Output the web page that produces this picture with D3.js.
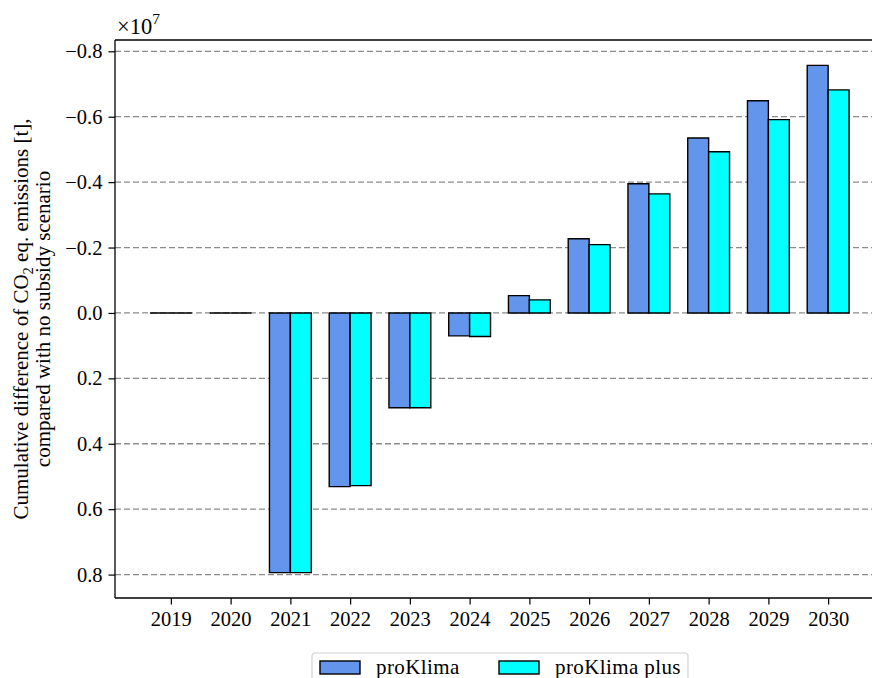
<!DOCTYPE html>
<html>
<head>
<meta charset="utf-8">
<script src="https://cdn.jsdelivr.net/npm/d3@7"></script>
<style>
  html, body { margin: 0; padding: 0; background: #fff; }
  svg { display: block; }
  text { font-family: "Liberation Serif", "DejaVu Serif", serif; fill: #000; }
</style>
</head>
<body>
<svg id="chart" width="872" height="678"></svg>
<script>
// Cumulative CO2-eq difference vs. the no-subsidy scenario, tonnes
const years = [2019, 2020, 2021, 2022, 2023, 2024, 2025, 2026, 2027, 2028, 2029, 2030];
const proKlima     = [0, 0, 7.94e6, 5.31e6, 2.90e6, 0.70e6, -0.53e6, -2.27e6, -3.95e6, -5.35e6, -6.49e6, -7.57e6];
const proKlimaPlus = [0, 0, 7.94e6, 5.28e6, 2.90e6, 0.72e6, -0.40e6, -2.09e6, -3.64e6, -4.93e6, -5.91e6, -6.82e6];
const seriesNames  = ["proKlima", "proKlima plus"];
const seriesColors = ["#6495ED", "#00FFFF"];
const yTicks = [-0.8, -0.6, -0.4, -0.2, 0.0, 0.2, 0.4, 0.6, 0.8];
const scaleExp = 7;

const svg = d3.select("#chart");
const plot = { left: 115, top: 40, right: 884, bottom: 598 };
const barW = 0.35;
const tickFont = 20.5;
const labelFont = 21;

// x: year positions with 5% padding around the outermost bars
const xLo = d3.min(years) - barW, xHi = d3.max(years) + barW;
const xPad = (xHi - xLo) * 0.05;
const x = d3.scaleLinear().domain([xLo - xPad, xHi + xPad]).range([plot.left, plot.right]);

// y: values in units of 1e7, axis inverted (negative at the top)
const all = proKlima.concat(proKlimaPlus).map(v => v / Math.pow(10, scaleExp)).concat([0]);
const yLo = d3.min(all), yHi = d3.max(all);
const yPad = (yHi - yLo) * 0.05;
const y = d3.scaleLinear().domain([yLo - yPad, yHi + yPad]).range([plot.top, plot.bottom]);

const fmt = v => (v < 0 ? "\u2212" : "") + Math.abs(v).toFixed(1);

// grid
svg.append("g").selectAll("line").data(yTicks).join("line")
  .attr("x1", plot.left).attr("x2", plot.right)
  .attr("y1", d => y(d)).attr("y2", d => y(d))
  .attr("stroke", "#8c8c8c").attr("stroke-width", 1.3)
  .attr("stroke-dasharray", "6,3");

// bars
const series = [proKlima, proKlimaPlus];
series.forEach((vals, si) => {
  svg.append("g").selectAll("path").data(vals.map((v, i) => ({ year: years[i], v: v / Math.pow(10, scaleExp) })))
    .join("path")
    .attr("d", d => {
      const x0 = x(d.year + (si === 0 ? -barW : 0));
      const x1 = x(d.year + (si === 0 ? 0 : barW));
      const y0 = y(0), y1 = y(d.v);
      return `M${x0},${y0}H${x1}V${y1}H${x0}Z`;
    })
    .attr("fill", seriesColors[si])
    .attr("stroke", "#000").attr("stroke-width", 1.4)
    .attr("stroke-linejoin", "miter");
});

// spines
svg.append("line").attr("x1", plot.left).attr("x2", plot.right).attr("y1", plot.top).attr("y2", plot.top)
  .attr("stroke", "#000").attr("stroke-width", 1.3);
svg.append("line").attr("x1", plot.left).attr("x2", plot.right).attr("y1", plot.bottom).attr("y2", plot.bottom)
  .attr("stroke", "#000").attr("stroke-width", 1.3);
svg.append("line").attr("x1", plot.left).attr("x2", plot.left).attr("y1", plot.top).attr("y2", plot.bottom)
  .attr("stroke", "#000").attr("stroke-width", 1.3);

// y axis
const yAxis = d3.axisLeft(y).tickValues(yTicks).tickFormat(fmt).tickSize(6.5).tickPadding(6);
const gy = svg.append("g").attr("transform", `translate(${plot.left},0)`).call(yAxis);
gy.select(".domain").remove();
gy.attr("font-size", tickFont).attr("font-family", "Liberation Serif");
gy.selectAll(".tick line").attr("stroke", "#000").attr("stroke-width", 1.2);
gy.selectAll(".tick text").attr("fill", "#000");

// x axis
const xAxis = d3.axisBottom(x).tickValues(years).tickFormat(d3.format("d")).tickSize(6.5).tickPadding(7);
const gx = svg.append("g").attr("transform", `translate(0,${plot.bottom})`).call(xAxis);
gx.select(".domain").remove();
gx.attr("font-size", tickFont).attr("font-family", "Liberation Serif");
gx.selectAll(".tick line").attr("stroke", "#000").attr("stroke-width", 1.2);
gx.selectAll(".tick text").attr("fill", "#000");

// scale factor
const off = svg.append("text").attr("x", plot.left + 2).attr("y", plot.top - 6).attr("font-size", 22.5);
off.append("tspan").text("\u00d710");
off.append("tspan").attr("font-size", 15.5).attr("dy", -10).text(scaleExp);

// y label
const cy = (plot.top + plot.bottom) / 2;
const yl = svg.append("g").attr("transform", `translate(28,${cy}) rotate(-90)`);
const l1 = yl.append("text").attr("text-anchor", "middle").attr("y", 0).attr("font-size", labelFont);
l1.append("tspan").text("Cumulative difference of CO");
l1.append("tspan").attr("font-size", 14.5).attr("dy", 5).text("2");
l1.append("tspan").attr("dy", -5).text(" eq. emissions [t],");
yl.append("text").attr("text-anchor", "middle").attr("y", 22).attr("font-size", labelFont)
  .text("compared with no subsidy scenario");

// legend
const lg = svg.append("g").attr("transform", "translate(312,653)");
lg.append("rect").attr("x", 0).attr("y", 0).attr("width", 376).attr("height", 40).attr("rx", 3)
  .attr("fill", "#fff").attr("fill-opacity", 0.8).attr("stroke", "#d0d0d0").attr("stroke-width", 1.2);
const legX = [8, 187];
seriesNames.forEach((name, i) => {
  lg.append("rect").attr("x", legX[i]).attr("y", 8).attr("width", 40).attr("height", 13)
    .attr("fill", seriesColors[i]).attr("stroke", "#000").attr("stroke-width", 1.4);
  lg.append("text").attr("x", legX[i] + 56).attr("y", 21).attr("font-size", labelFont)
    .attr("letter-spacing", 0.4).text(name);
});
</script>
</body>
</html>
